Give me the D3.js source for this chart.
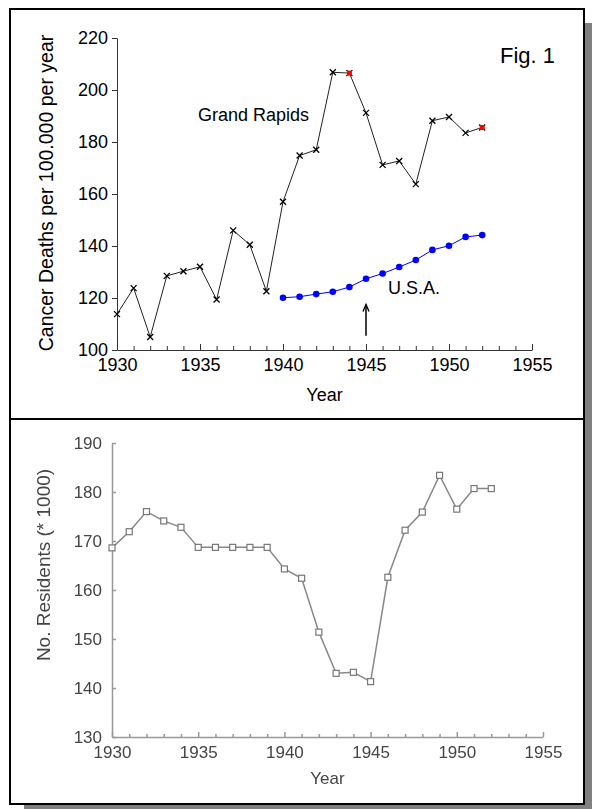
<!DOCTYPE html>
<html>
<head>
<meta charset="utf-8">
<script src="https://cdn.jsdelivr.net/npm/d3@7"></script>
<style>
  body { margin: 0; background: #fff; }
  svg { display: block; font-family: "Liberation Sans", Arial, sans-serif; }
</style>
</head>
<body>
<svg id="chart" width="592" height="809"></svg>
<script>
// ---- data ----
var years = [1930, 1931, 1932, 1933, 1934, 1935, 1936, 1937, 1938, 1939, 1940,
             1941, 1942, 1943, 1944, 1945, 1946, 1947, 1948, 1949, 1950, 1951, 1952];
var grandRapids = [113.8, 123.8, 105, 128.5, 130.3, 132, 119.4, 146, 140.5, 122.6, 157,
                   174.8, 177, 206.8, 206.5, 191.2, 171.2, 172.7, 163.8, 188.2, 189.6, 183.5, 185.6];
var redYears = [1944, 1952];

var usaYears = [1940, 1941, 1942, 1943, 1944, 1945, 1946, 1947, 1948, 1949, 1950, 1951, 1952];
var usa = [120.1, 120.5, 121.5, 122.4, 124.2, 127.4, 129.4, 131.9, 134.6, 138.5, 140.1, 143.5, 144.2];

var residents = [168.6, 171.9, 176, 174.1, 172.8, 168.7, 168.7, 168.7, 168.7, 168.7, 164.3,
                 162.4, 151.4, 143, 143.2, 141.3, 162.6, 172.2, 175.9, 183.4, 176.5, 180.7, 180.7];

var xMajor = [1930, 1935, 1940, 1945, 1950, 1955];
var xMinor = [1931, 1932, 1933, 1934, 1936, 1937, 1938, 1939, 1941, 1942, 1943, 1944,
              1946, 1947, 1948, 1949, 1951, 1952, 1953, 1954];
var topYTicks = [100, 120, 140, 160, 180, 200, 220];
var bottomYTicks = [130, 140, 150, 160, 170, 180, 190];

var arrowYear = 1945, arrowFrom = 105.5, arrowTo = 117.5;

var svg = d3.select("#chart");

// drop shadow + panel frames
svg.append("rect").attr("x", 584).attr("y", 23).attr("width", 8).attr("height", 786).attr("fill", "#808080");
svg.append("rect").attr("x", 24).attr("y", 804).attr("width", 568).attr("height", 5).attr("fill", "#808080");
svg.append("rect").attr("x", 10).attr("y", 9).attr("width", 574).attr("height", 410)
    .attr("fill", "#fff").attr("stroke", "#000").attr("stroke-width", 2);
svg.append("rect").attr("x", 10).attr("y", 419).attr("width", 574).attr("height", 385)
    .attr("fill", "#fff").attr("stroke", "#000").attr("stroke-width", 2);

var defs = svg.append("defs");

// ================= top chart =================
var x = d3.scaleLinear().domain([1930, 1955]).range([117, 532]);
var y = d3.scaleLinear().domain([100, 220]).range([350, 38]);

var topG = svg.append("g");

topG.append("g")
    .attr("transform", "translate(0,350)")
    .call(d3.axisBottom(x).tickValues(xMinor).tickSizeInner(-4).tickSizeOuter(0).tickFormat(""))
    .call(function(g) { g.select(".domain").remove(); });
topG.append("g")
    .attr("class", "axis")
    .attr("transform", "translate(0,350)")
    .call(d3.axisBottom(x).tickValues(xMajor).tickSizeInner(-6).tickSizeOuter(0)
      .tickPadding(8).tickFormat(d3.format("d")));
topG.append("g")
    .attr("class", "axis")
    .attr("transform", "translate(117,0)")
    .call(d3.axisLeft(y).tickValues(topYTicks).tickSizeInner(5).tickSizeOuter(0).tickPadding(4));

topG.selectAll(".axis text").attr("font-size", 18).attr("font-family", "Liberation Sans, Arial, sans-serif").attr("fill", "#000");
topG.selectAll("path, line").attr("stroke", "#333");

topG.append("text")
    .attr("x", (x(1930) + x(1955)) / 2).attr("y", 401)
    .attr("text-anchor", "middle").attr("font-size", 18)
    .text("Year");
topG.append("text")
    .attr("transform", "translate(53,193) rotate(-90)")
    .attr("text-anchor", "middle").attr("font-size", 19.5)
    .text("Cancer Deaths per 100.000 per year");

var line = d3.line()
    .x(function(d) { return x(d[0]); })
    .y(function(d) { return y(d[1]); });

var grData = years.map(function(yr, i) { return [yr, grandRapids[i]]; });
var usData = usaYears.map(function(yr, i) { return [yr, usa[i]]; });

topG.append("path").datum(grData).attr("d", line)
    .attr("fill", "none").attr("stroke", "#222").attr("stroke-width", 1);
topG.append("path").datum(usData).attr("d", line)
    .attr("fill", "none").attr("stroke", "#0000ff").attr("stroke-width", 1);

topG.selectAll(".gr").data(grData).enter().append("path")
    .attr("transform", function(d) { return "translate(" + x(d[0]) + "," + y(d[1]) + ")"; })
    .attr("d", "M-3,-3L3,3M-3,3L3,-3")
    .attr("stroke", "#000").attr("stroke-width", 1.3);

topG.selectAll(".red").data(grData.filter(function(d) { return redYears.indexOf(d[0]) >= 0; }))
  .enter().append("rect")
    .attr("x", function(d) { return x(d[0]) - 2.5; })
    .attr("y", function(d) { return y(d[1]) - 2.5; })
    .attr("width", 5).attr("height", 5)
    .attr("fill", "#ff0000");

topG.selectAll(".us").data(usData).enter().append("circle")
    .attr("cx", function(d) { return x(d[0]); })
    .attr("cy", function(d) { return y(d[1]); })
    .attr("r", 3.3)
    .attr("fill", "#0000ff");

topG.append("text").attr("x", 198).attr("y", 121).attr("font-size", 18).text("Grand Rapids");
topG.append("text").attr("x", 388).attr("y", 294).attr("font-size", 18).text("U.S.A.");
topG.append("text").attr("x", 500).attr("y", 63).attr("font-size", 22).text("Fig. 1");

// arrow pointing at 1945
topG.append("line")
    .attr("x1", x(arrowYear)).attr("x2", x(arrowYear))
    .attr("y1", y(arrowFrom)).attr("y2", y(arrowTo))
    .attr("stroke", "#000").attr("stroke-width", 1.5);
topG.append("path")
    .attr("d", "M" + (x(arrowYear) - 3) + "," + (y(arrowTo) + 7) + "L" + x(arrowYear) + "," + y(arrowTo) +
               "L" + (x(arrowYear) + 3) + "," + (y(arrowTo) + 7))
    .attr("fill", "none").attr("stroke", "#000").attr("stroke-width", 1.3);

// ================= bottom chart =================
var x2 = d3.scaleLinear().domain([1930, 1955]).range([112, 543]);
var y2 = d3.scaleLinear().domain([130, 190]).range([737, 443]);

defs.append("filter").attr("id", "soft")
  .append("feGaussianBlur").attr("stdDeviation", 0.55);

var bot = svg.append("g").attr("filter", "url(#soft)");

bot.append("g")
    .attr("transform", "translate(0,737)")
    .call(d3.axisBottom(x2).tickValues(xMinor).tickSizeInner(-3).tickSizeOuter(0).tickFormat(""))
    .call(function(g) { g.select(".domain").remove(); });
bot.append("g")
    .attr("class", "axis")
    .attr("transform", "translate(0,737)")
    .call(d3.axisBottom(x2).tickValues(xMajor).tickSizeInner(-5).tickSizeOuter(0)
      .tickPadding(9).tickFormat(d3.format("d")));
bot.append("g")
    .attr("class", "axis")
    .attr("transform", "translate(112,0)")
    .call(d3.axisLeft(y2).tickValues(bottomYTicks).tickSizeInner(-4).tickSizeOuter(0).tickPadding(10));

bot.selectAll(".axis text").attr("font-size", 17).attr("font-family", "Liberation Sans, Arial, sans-serif").attr("fill", "#444");
bot.selectAll("path, line").attr("stroke", "#999").attr("stroke-width", 1.5);

bot.append("text")
    .attr("x", (x2(1930) + x2(1955)) / 2).attr("y", 784)
    .attr("text-anchor", "middle").attr("font-size", 17).attr("fill", "#444")
    .text("Year");
bot.append("text")
    .attr("transform", "translate(50,565) rotate(-90)")
    .attr("text-anchor", "middle").attr("font-size", 19).attr("fill", "#444")
    .text("No. Residents (* 1000)");

var line2 = d3.line()
    .x(function(d) { return x2(d[0]); })
    .y(function(d) { return y2(d[1]); });
var resData = years.map(function(yr, i) { return [yr, residents[i]]; });

bot.append("path").datum(resData).attr("d", line2)
    .attr("fill", "none").attr("stroke", "#888").attr("stroke-width", 1.5);
bot.selectAll(".res").data(resData).enter().append("rect")
    .attr("x", function(d) { return x2(d[0]) - 3; })
    .attr("y", function(d) { return y2(d[1]) - 3; })
    .attr("width", 6).attr("height", 6)
    .attr("fill", "#fff").attr("stroke", "#777").attr("stroke-width", 1.2);
</script>
</body>
</html>
